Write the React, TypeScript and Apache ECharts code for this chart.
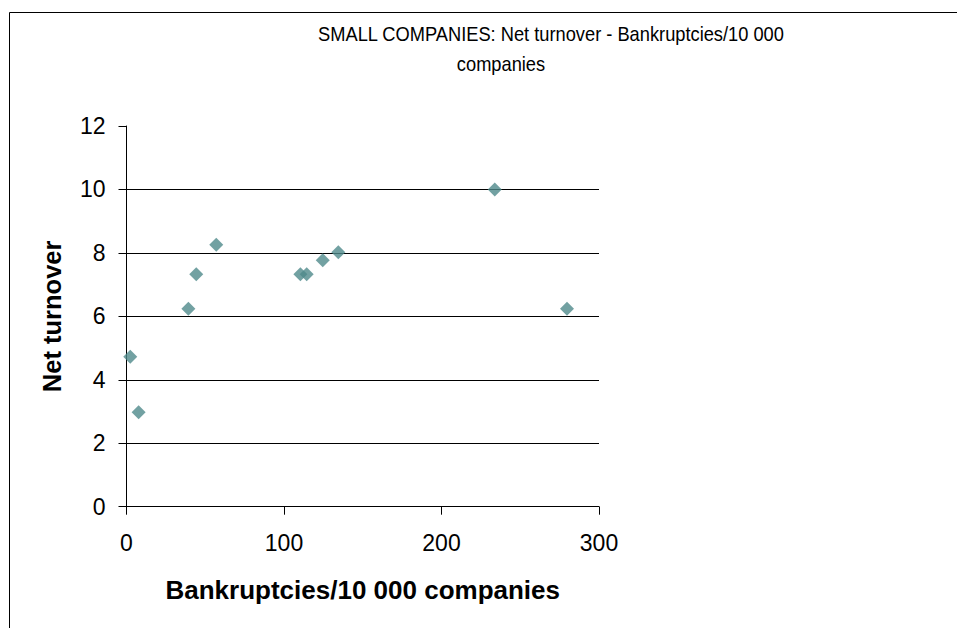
import React, { useEffect, useRef } from "react";
import * as echarts from "echarts";

// Bankruptcies per 10 000 companies (x) against net turnover (y)
const bankruptcies: number[] = [2.4, 7.7, 39.3, 44.3, 57.0, 110.4, 114.4, 124.6, 134.5, 233.8, 279.7];
const netTurnover: number[] = [4.73, 2.98, 6.24, 7.33, 8.26, 7.33, 7.33, 7.77, 8.02, 10.0, 6.24];

const titleLines: string[] = ["SMALL COMPANIES: Net turnover - Bankruptcies/10 000", "companies"];
const xAxisName = "Bankruptcies/10 000 companies";
const yAxisName = "Net turnover";

const FONT = "'Liberation Sans', Arial, sans-serif";

export default function App() {
  const ref = useRef<HTMLDivElement>(null);

  useEffect(() => {
    if (!ref.current) return;
    const chart = echarts.init(ref.current, null, { renderer: "svg" });
    const points = bankruptcies.map((x, i) => [x, netTurnover[i]]);

    // the title is set in a slightly condensed face
    const titleStyle = {
      fontFamily: FONT,
      fontSize: 21,
      fill: "#000",
      textAlign: "center",
      textVerticalAlign: "middle",
    };

    chart.setOption({
      animation: false,
      backgroundColor: "#ffffff",
      textStyle: { fontFamily: FONT },
      graphic: [
        {
          type: "rect",
          shape: { x: 9.5, y: 12.5, width: 1000, height: 700 },
          style: { fill: "none", stroke: "#000", lineWidth: 1 },
          silent: true,
        },
        {
          type: "text",
          x: 551,
          y: 34,
          scaleX: 0.87,
          style: { ...titleStyle, text: titleLines[0] },
        },
        {
          type: "text",
          x: 501,
          y: 64,
          scaleX: 0.87,
          style: { ...titleStyle, text: titleLines[1] },
        },
      ],
      grid: { left: 126.5, right: 358, top: 126, bottom: 121.3, containLabel: false },
      xAxis: {
        type: "value",
        min: 0,
        max: 300,
        interval: 100,
        name: xAxisName,
        nameLocation: "middle",
        nameGap: 70,
        nameTextStyle: { fontFamily: FONT, fontSize: 26, fontWeight: "bold", color: "#000" },
        axisLine: { show: true, onZero: false, lineStyle: { color: "#000", width: 1 } },
        axisTick: { show: true, inside: false, length: 8, lineStyle: { color: "#000" } },
        axisLabel: { fontFamily: FONT, fontSize: 23, color: "#000", margin: 25 },
        splitLine: { show: false },
      },
      yAxis: {
        type: "value",
        min: 0,
        max: 12,
        interval: 2,
        name: yAxisName,
        nameLocation: "middle",
        nameGap: 62,
        nameTextStyle: { fontFamily: FONT, fontSize: 25.5, fontWeight: "bold", color: "#000" },
        axisLine: { show: true, onZero: false, lineStyle: { color: "#000", width: 1 } },
        axisTick: { show: true, inside: false, length: 8, lineStyle: { color: "#000" } },
        axisLabel: { fontFamily: FONT, fontSize: 23, color: "#000", margin: 21 },
        splitLine: {
          show: true,
          showMinLine: false,
          showMaxLine: false,
          lineStyle: { color: "#000", width: 1 },
        },
      },
      series: [
        {
          type: "scatter",
          data: points,
          symbol: "diamond",
          symbolSize: 14,
          itemStyle: { color: "#4f8a8b" },
          clip: false,
        },
      ],
    });

    return () => chart.dispose();
  }, []);

  return (
    <div
      ref={ref}
      style={{ position: "fixed", left: 0, top: 0, width: 957, height: 628, background: "#fff" }}
    />
  );
}
